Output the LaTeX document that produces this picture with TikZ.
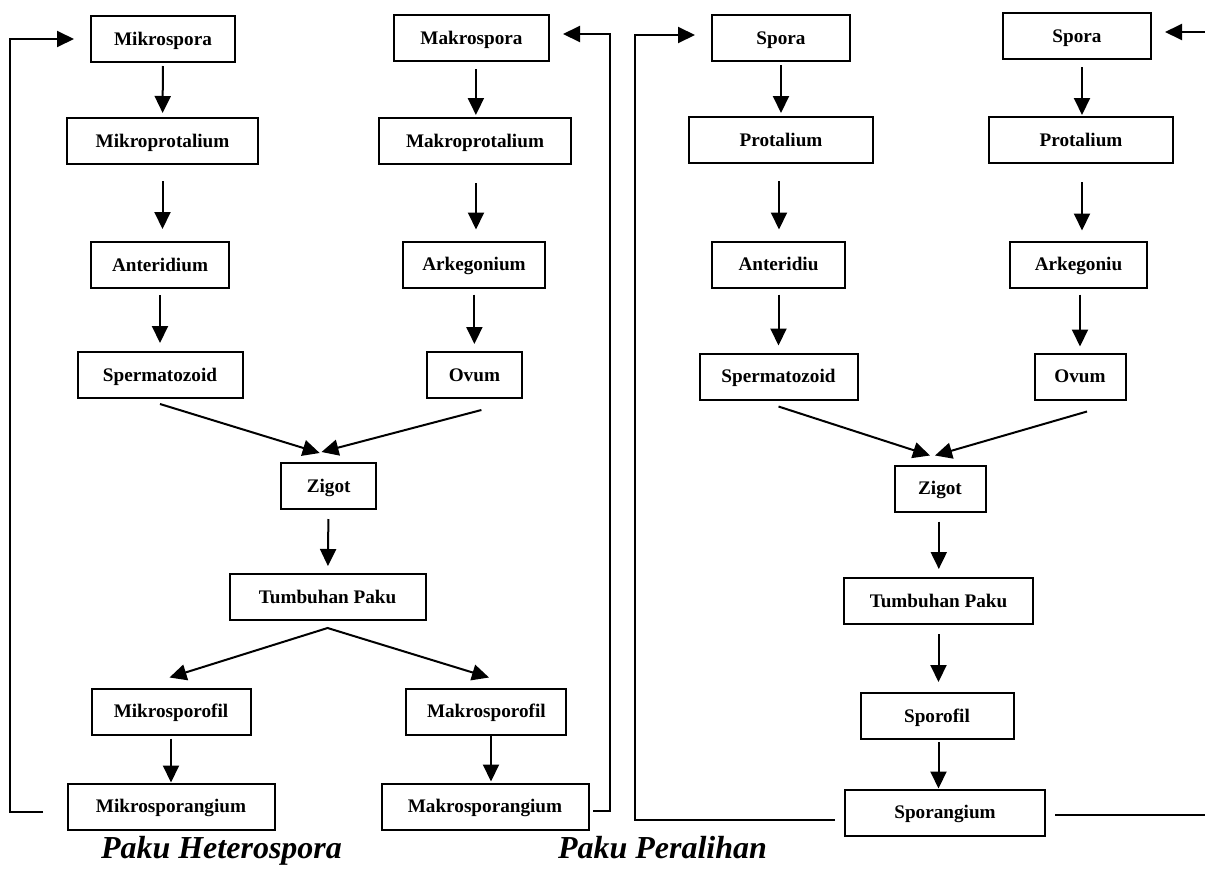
\documentclass[tikz,border=0pt]{standalone}
\usepackage{fontspec}
\setmainfont{Liberation Serif}
\usetikzlibrary{arrows.meta}
\begin{document}
\begin{tikzpicture}[x=0.5pt, y=-0.5pt, line width=1pt,
  box/.style={draw, inner sep=0pt, minimum height=23pt, text height=8.4pt, text depth=2pt, font=\bfseries\fontsize{9.6}{11}\selectfont},
  flow/.style={-{Triangle[length=8.5pt,width=8pt]}},
  caption/.style={anchor=base west, inner sep=0pt, font=\bfseries\itshape\fontsize{16}{18}\selectfont}]
\useasboundingbox (0,0) rectangle (1205,868);
%\draw[help lines, step=50] (0,0) grid (1205,868);
%%%%%%%%%%%%%%%%%%%%%%%%%%%%%%% Paku Heterospora
\node[box, minimum width=72pt](mikrospora) at (163,39){Mikrospora};
\node[box, minimum width=95.5pt](mikroprot) at (162.5,141){Mikroprotalium};
\node[box, minimum width=69pt](anteridium) at (160,265){Anteridium};
\node[box, minimum width=82.5pt](sperm) at (160,375){Spermatozoid};
\node[box, minimum width=77.5pt](makrospora) at (471.5,38){Makrospora};
\node[box, minimum width=96pt](makroprot) at (475,141){Makroprotalium};
\node[box, minimum width=71pt](arkegonium) at (474,264.5){Arkegonium};
\node[box, minimum width=47.5pt](ovum) at (474.4,375){Ovum};
\node[box, minimum width=47.5pt](zigot) at (328.7,486){Zigot};
\node[box, minimum width=98pt](tumbuhan) at (327.6,597){Tumbuhan Paku};
\node[box, minimum width=79.5pt](mikrosporofil) at (171,711.5){Mikrosporofil};
\node[box, minimum width=80pt](makrosporofil) at (486.4,711.5){Makrosporofil};
\node[box, minimum width=103.5pt](mikrosporangium) at (171,806.5){Mikrosporangium};
\node[box, minimum width=103.5pt](makrosporangium) at (485,806.5){Makrosporangium};
\node[caption](capHetero) at (100,858){Paku Heterospora};
\draw[flow, shorten <=1.5pt, shorten >=2pt] (mikrospora) -- (mikroprot);
\draw[flow, shorten <=8pt, shorten >=6pt] (mikroprot.south) -- (mikroprot.south |- anteridium.north);
\draw[flow, shorten <=3pt, shorten >=4pt] (anteridium) -- (sperm);
\draw[flow, shorten <=3.5pt, shorten >=1pt] ([xshift=2.2pt]makrospora.south) -- ([xshift=2.2pt]makrospora.south |- makroprot.north);
\draw[flow, shorten <=9pt, shorten >=5.5pt] ([xshift=0.5pt]makroprot.south) -- ([xshift=0.5pt]makroprot.south |- arkegonium.north);
\draw[flow, shorten <=3pt, shorten >=3.5pt] (ovum |- arkegonium.south) -- (ovum.north);
\draw[flow] ([yshift=-2.5pt]sperm.south) -- ([xshift=-4.5pt,yshift=4.5pt]zigot.north);
\draw[flow] ([xshift=3.5pt,yshift=-5.5pt]ovum.south) -- ([xshift=-3.6pt,yshift=5pt]zigot.north);
\draw[flow, shorten <=4.5pt, shorten >=3.5pt] (zigot) -- (tumbuhan);
\draw[{Triangle[length=8.5pt,width=8pt]}-{Triangle[length=8.5pt,width=8pt]}] ([xshift=-0.75pt,yshift=5pt]mikrosporofil.north) -- ([yshift=-3.5pt]tumbuhan.south) -- ([xshift=1.3pt,yshift=5pt]makrosporofil.north);
\draw[flow, shorten <=1.5pt] (mikrosporofil) -- (mikrosporangium);
\draw[flow, shorten >=0.5pt] ([xshift=2.3pt]makrosporofil.south) -- ([xshift=2.3pt]makrosporofil.south |- makrosporangium.north);
\draw[flow] ([xshift=-11.7pt,yshift=-2.75pt]mikrosporangium.west) -- ++(-33,0) |- ([xshift=-8pt]mikrospora.west);
\draw[flow] ([xshift=1.8pt,yshift=-2.25pt]makrosporangium.east) -- ++(17,0) |- ([xshift=6.5pt,yshift=2pt]makrospora.east);
%%%%%%%%%%%%%%%%%%%%%%%%%%%%%%% Paku Peralihan
\node[box, minimum width=69pt](spora) at (781,38){Spora};
\node[box, minimum width=92pt](protalium) at (781,140){Protalium};
\node[box, minimum width=66.5pt](anteridiu) at (778.5,264.5){Anteridiu};
\node[box, minimum width=79pt](spermb) at (778.5,376.5){Spermatozoid};
\node[box, minimum width=74pt](sporab) at (1077,36){Spora};
\node[box, minimum width=92pt](protaliumb) at (1081,140){Protalium};
\node[box, minimum width=68.5pt](arkegoniu) at (1078.5,264.5){Arkegoniu};
\node[box, minimum width=45.5pt](ovumb) at (1080,376.5){Ovum};
\node[box, minimum width=45.5pt](zigotb) at (940,488.5){Zigot};
\node[box, minimum width=94.5pt](tumbuhanb) at (938.5,601){Tumbuhan Paku};
\node[box, minimum width=76.5pt](sporofil) at (937,716){Sporofil};
\node[box, minimum width=99.7pt](sporangium) at (945,812.5){Sporangium};
\node[caption](capPeralihan) at (557,858){Paku Peralihan};
\coordinate (outR) at (1205,815);
\coordinate (inR) at (1205,32);
\draw[flow, shorten <=1.5pt, shorten >=1.5pt] (spora) -- (protalium);
\draw[flow, shorten <=8.5pt, shorten >=5.5pt] ([xshift=-1pt]protalium.south) -- ([xshift=-1pt]protalium.south |- anteridiu.north);
\draw[flow, shorten <=3pt, shorten >=3.5pt] (spermb |- anteridiu.south) -- (spermb.north);
\draw[flow, shorten <=3.5pt, shorten >=0.5pt] ([xshift=2.5pt]sporab.south) -- ([xshift=2.5pt]sporab.south |- protaliumb.north);
\draw[flow, shorten <=9pt, shorten >=5pt] ([xshift=0.5pt]protaliumb.south) -- ([xshift=0.5pt]protaliumb.south |- arkegoniu.north);
\draw[flow, shorten <=3pt, shorten >=3pt] (ovumb |- arkegoniu.south) -- (ovumb.north);
\draw[flow] ([yshift=-3pt]spermb.south) -- ([xshift=-5pt,yshift=4.5pt]zigotb.north);
\draw[flow] ([xshift=3.5pt,yshift=-5.5pt]ovumb.south) -- ([xshift=-2.5pt,yshift=4.5pt]zigotb.north);
\draw[flow, shorten <=4.5pt, shorten >=4pt] ([xshift=-0.6pt]zigotb.south) -- ([xshift=-0.6pt]zigotb.south |- tumbuhanb.north);
\draw[flow, shorten <=4.5pt, shorten >=5pt] (tumbuhanb) -- (tumbuhanb |- sporofil.north);
\draw[flow, shorten <=1pt] (tumbuhanb |- sporofil.south) -- (tumbuhanb |- sporangium.north);
\draw[flow] ([xshift=-4.6pt,yshift=-3.75pt]sporangium.west) -- ++(-200,0) |- ([xshift=-8pt,yshift=1.5pt]spora.west);
\draw ([xshift=4.7pt,yshift=-1.25pt]sporangium.east) -- (outR);
\draw[flow] (inR) -- ([xshift=6.5pt,yshift=2pt]sporab.east);
\end{tikzpicture}
\end{document}
